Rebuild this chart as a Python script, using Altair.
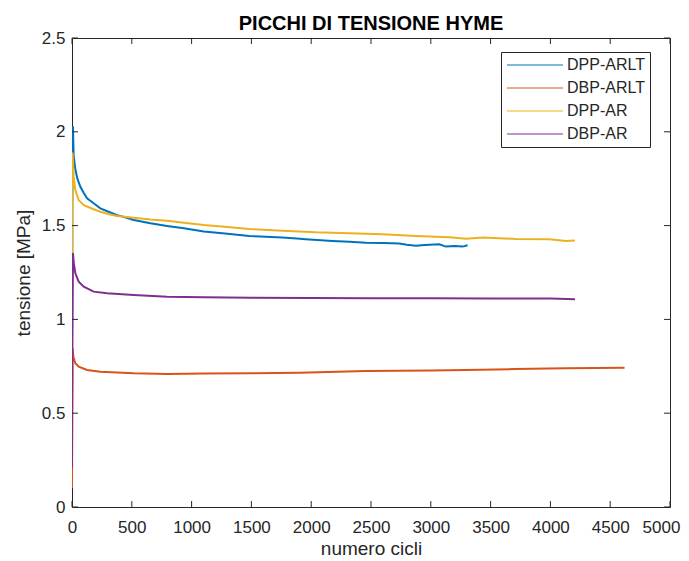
import altair as alt
import pandas as pd

series_names = ["DPP-ARLT", "DBP-ARLT", "DPP-AR", "DBP-AR"]
series_colors = ["#0072BD", "#D95319", "#EDB120", "#7E2F8E"]

blue_x = [0, 3, 8, 14, 28, 45, 70, 100, 126, 181, 237, 300, 377, 450, 516, 655, 795, 935, 1102, 1300,
          1481, 1620, 1758, 1880, 1953, 2050, 2178, 2320, 2457, 2600, 2736, 2800, 2876, 2950, 3071,
          3127, 3200, 3266, 3308]
blue_y = [0.40, 1.60, 2.03, 1.87, 1.80, 1.75, 1.707, 1.672, 1.645, 1.619, 1.592, 1.575, 1.556, 1.543,
          1.530, 1.512, 1.498, 1.486, 1.468, 1.456, 1.445, 1.441, 1.436, 1.431, 1.427, 1.423, 1.418,
          1.414, 1.409, 1.407, 1.405, 1.398, 1.392, 1.396, 1.400, 1.388, 1.391, 1.388, 1.395]

orange_x = [0, 2, 5, 12, 28, 56, 126, 237, 516, 795, 1102, 1500, 1900, 2458, 3000, 3294, 3700, 4131, 4620]
orange_y = [0.10, 0.50, 0.846, 0.80, 0.766, 0.748, 0.730, 0.721, 0.713, 0.709, 0.711, 0.713, 0.716,
            0.725, 0.728, 0.730, 0.735, 0.739, 0.742]

yellow_x = [0, 2, 5, 14, 28, 56, 98, 181, 237, 300, 377, 516, 655, 795, 935, 1102, 1300, 1481, 1758,
            2039, 2318, 2595, 2876, 3155, 3294, 3434, 3713, 3992, 4131, 4205]
yellow_y = [0.90, 1.50, 1.89, 1.761, 1.69, 1.636, 1.609, 1.587, 1.574, 1.562, 1.551, 1.542, 1.533,
            1.526, 1.515, 1.503, 1.492, 1.482, 1.473, 1.464, 1.459, 1.454, 1.445, 1.438, 1.430, 1.436,
            1.429, 1.427, 1.418, 1.420]

purple_x = [0, 3, 8, 15, 28, 56, 98, 181, 293, 516, 795, 1102, 1500, 2000, 2500, 3000, 3500, 4000, 4206]
purple_y = [0.21, 0.90, 1.354, 1.30, 1.246, 1.201, 1.174, 1.148, 1.139, 1.130, 1.121, 1.118, 1.116,
            1.114, 1.113, 1.113, 1.112, 1.111, 1.108]

x_ticks = [0, 500, 1000, 1500, 2000, 2500, 3000, 3500, 4000, 4500, 5000]
y_ticks = [0, 0.5, 1, 1.5, 2, 2.5]

rows = []
for name, xs, ys in [("DPP-ARLT", blue_x, blue_y), ("DBP-ARLT", orange_x, orange_y),
                     ("DPP-AR", yellow_x, yellow_y), ("DBP-AR", purple_x, purple_y)]:
    for i, (a, b) in enumerate(zip(xs, ys)):
        rows.append({"serie": name, "cicli": a, "tensione": b, "i": i})
df = pd.DataFrame(rows)

W, H = 598, 469
FONT = "Liberation Sans"
TXT = "#262626"

xscale = alt.Scale(domain=[0, 5000], nice=False, zero=False)
yscale = alt.Scale(domain=[0, 2.5], nice=False, zero=False)

x_axis = alt.Axis(values=x_ticks, title="numero cicli", ticks=False, domain=False,
                  grid=False, labelPadding=12, titlePadding=4, format="d", labelFlush=False,
                  labelOverlap=False,
                  labelOffset={"condition": {"test": "datum.value >= 5000", "value": -9}, "value": 0},
                  labelFont=FONT, labelFontSize=17, labelColor=TXT,
                  titleFont=FONT, titleFontSize=19, titleFontWeight="normal", titleColor=TXT)
y_axis = alt.Axis(values=y_ticks, title="tensione [MPa]", ticks=False, domain=False,
                  grid=False, labelPadding=7, titlePadding=8, format="~g", labelFlush=False,
                  labelOverlap=False,
                  labelFont=FONT, labelFontSize=17, labelColor=TXT,
                  titleFont=FONT, titleFontSize=19, titleFontWeight="normal", titleColor=TXT)

lines = alt.Chart(df).mark_line(strokeWidth=2, clip=True).encode(
    x=alt.X("cicli:Q", scale=xscale, axis=x_axis),
    y=alt.Y("tensione:Q", scale=yscale, axis=y_axis),
    color=alt.Color("serie:N", scale=alt.Scale(domain=series_names, range=series_colors),
                    legend=alt.Legend(title=None, orient="none", legendX=429, legendY=14,
                                      symbolType="M-2,0H14", symbolSize=49, symbolStrokeWidth=1,
                                      labelOffset=45, labelFontSize=16, labelFont=FONT,
                                      labelColor=TXT, rowPadding=7, padding=5,
                                      strokeColor="#262626", fillColor="white")),
    order=alt.Order("i:Q"),
)

xt = pd.DataFrame({"v": x_ticks})
yt = pd.DataFrame({"v": y_ticks})
tick_color = "#262626"
bx = alt.Chart(xt).mark_rule(color=tick_color, strokeWidth=1).encode(
    x=alt.X("v:Q", scale=xscale, axis=x_axis), y=alt.value(H), y2=alt.value(H - 6))
tx = alt.Chart(xt).mark_rule(color=tick_color, strokeWidth=1).encode(
    x=alt.X("v:Q", scale=xscale, axis=x_axis), y=alt.value(0), y2=alt.value(6))
ly = alt.Chart(yt).mark_rule(color=tick_color, strokeWidth=1).encode(
    y=alt.Y("v:Q", scale=yscale, axis=y_axis), x=alt.value(0), x2=alt.value(6))
ry = alt.Chart(yt).mark_rule(color=tick_color, strokeWidth=1).encode(
    y=alt.Y("v:Q", scale=yscale, axis=y_axis), x=alt.value(W), x2=alt.value(W - 6))

chart = alt.layer(lines, bx, tx, ly, ry).properties(
    width=W, height=H,
    title=alt.TitleParams("PICCHI DI TENSIONE HYME", font=FONT, fontSize=20, fontWeight="bold",
                          color="black", anchor="middle", offset=0, dy=5),
    autosize=alt.AutoSizeParams(type="none"),
    padding={"left": 64, "top": 30, "right": 11, "bottom": 54},
    background="white",
).configure_view(stroke="#262626", strokeWidth=1)

chart.save("out.html", embed_options={"renderer": "svg", "actions": False})
